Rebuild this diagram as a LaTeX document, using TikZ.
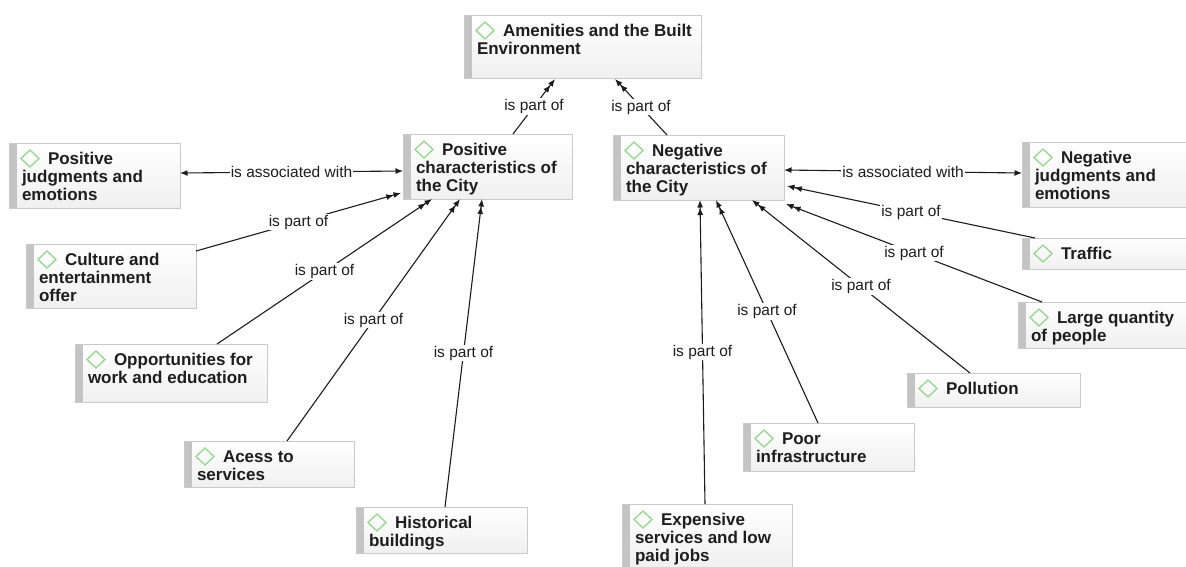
\documentclass[tikz,border=0pt]{standalone}
\usepackage{fontspec}
\setmainfont{Liberation Sans}
\usetikzlibrary{arrows.meta,calc,shadows}

\definecolor{edgeclr}{HTML}{1C1C1C}
\definecolor{boxline}{HTML}{CACACA}
\definecolor{boxbar}{HTML}{C4C4C4}
\definecolor{boxbottom}{HTML}{F0F0F0}
\definecolor{markgreen}{HTML}{98D492}
\definecolor{txtclr}{HTML}{1E1E1E}

\tikzset{
  conceptbox/.style={rectangle, anchor=north west, inner sep=0pt, outer sep=0pt,
    draw=boxline, line width=0.9pt, top color=white, bottom color=boxbottom,
    drop shadow={shadow xshift=1pt, shadow yshift=-1.2pt, opacity=0.1, fill=gray},
    path picture={\fill[boxbar] (path picture bounding box.north west)
      rectangle ([xshift=8pt]path picture bounding box.south west);}},
  concepttext/.style={anchor=north west, inner sep=0pt, outer sep=0pt, align=left,
    text=txtclr, font=\fontsize{17}{18}\selectfont\bfseries},
  diamondmark/.style={draw=markgreen, line width=1.3pt, line join=miter},
  partof/.style={draw=edgeclr, line width=1.1pt,
    -{Latex[length=7.5pt,width=6pt] Latex[length=7.5pt,width=6pt]}},
  assoc/.style={draw=edgeclr, line width=1.1pt,
    {Latex[length=7.5pt,width=6pt]}-{Latex[length=7.5pt,width=6pt]}},
  lbl/.style={fill=white, inner sep=1pt, text=txtclr,
    font=\fontsize{15.5}{17}\selectfont}
}

% name, x, y, width, height, text
\newcommand\conceptnode[6]{%
  \node[conceptbox, minimum width=#4pt, minimum height=#5pt] (#1) at (#2,#3) {};
  \node[concepttext] (#1-t) at ($(#1.north west)+(13,8.4)$) {\strut\hspace*{26pt}#6};
  \draw[diamondmark] ($(#1.north west)+(21,15.5)$)
    +(-9,0) -- +(0,-8.5) -- +(9,0) -- +(0,8.5) -- cycle;
}

\begin{document}
\begin{tikzpicture}[x=1pt, y=-1pt]
  \fill[white] (0,0) rectangle (1186,566);
  \useasboundingbox (0,0) rectangle (1186,566);

  \conceptnode{amen}{464}{15}{237}{63}{Amenities and the Built\\Environment}
  \conceptnode{pos}{403}{134}{169}{65}{Positive\\characteristics of\\the City}
  \conceptnode{neg}{613}{135}{171}{65}{Negative\\characteristics of\\the City}
  \conceptnode{pj}{9}{143}{171}{65}{Positive\\judgments and\\emotions}
  \conceptnode{nj}{1022}{142}{170}{65}{Negative\\judgments and\\emotions}
  \conceptnode{cult}{26}{244}{170}{64}{Culture and\\entertainment\\offer}
  \conceptnode{opp}{75}{344}{192}{58}{Opportunities for\\work and education}
  \conceptnode{acc}{184}{441}{170}{46}{Acess to\\services}
  \conceptnode{hist}{356}{507}{171}{46}{Historical\\buildings}
  \conceptnode{exp}{622}{504}{170}{64}{Expensive\\services and low\\paid jobs}
  \conceptnode{poor}{743}{423}{171}{48}{Poor\\infrastructure}
  \conceptnode{poll}{907}{373}{173}{34}{Pollution}
  \conceptnode{large}{1018}{302}{170}{46}{Large quantity\\of people}
  \conceptnode{traf}{1022}{238}{170}{31}{Traffic}

  % links into the top concept
  \draw[partof] ($(pos.north west)+(110,0)$) -- node[lbl]{is part of} ($(amen.south west)+(91,1)$);
  \draw[partof] ($(neg.north west)+(54,0)$) -- node[lbl]{is part of} ($(amen.south west)+(151,1)$);

  % associations
  \draw[assoc] ($(pj.north east)+(0,30)$) -- node[lbl]{is associated with} ($(pos.north west)+(0,37)$);
  \draw[assoc] ($(neg.north east)+(0,35)$) -- node[lbl]{is associated with} ($(nj.north west)+(0,31)$);

  % positive characteristics
  \draw[partof] ($(cult.north east)+(0,7)$) -- node[lbl]{is part of} ($(pos.south west)+(-2,-6)$);
  \draw[partof] ($(opp.north west)+(142,0)$) -- node[lbl]{is part of} ($(pos.south west)+(29,0)$);
  \draw[partof] ($(acc.north west)+(103,0)$) -- node[lbl]{is part of} ($(pos.south west)+(57,0)$);
  \draw[partof] ($(hist.north west)+(89,0)$) -- node[lbl]{is part of} ($(pos.south west)+(79,0)$);

  % negative characteristics
  \draw[partof] ($(exp.north west)+(83,0)$) -- node[lbl]{is part of} ($(neg.south west)+(87,0)$);
  \draw[partof] ($(poor.north west)+(75,0)$) -- node[lbl]{is part of} ($(neg.south west)+(103,0)$);
  \draw[partof] ($(poll.north west)+(63,0)$) -- node[lbl]{is part of} ($(neg.south west)+(139,0)$);
  \draw[partof] ($(large.north west)+(24,0)$) -- node[lbl]{is part of} ($(neg.south east)+(2,4)$);
  \draw[partof] ($(traf.north west)+(13,0)$) -- node[lbl]{is part of} ($(neg.north east)+(3,51)$);
\end{tikzpicture}
\end{document}
